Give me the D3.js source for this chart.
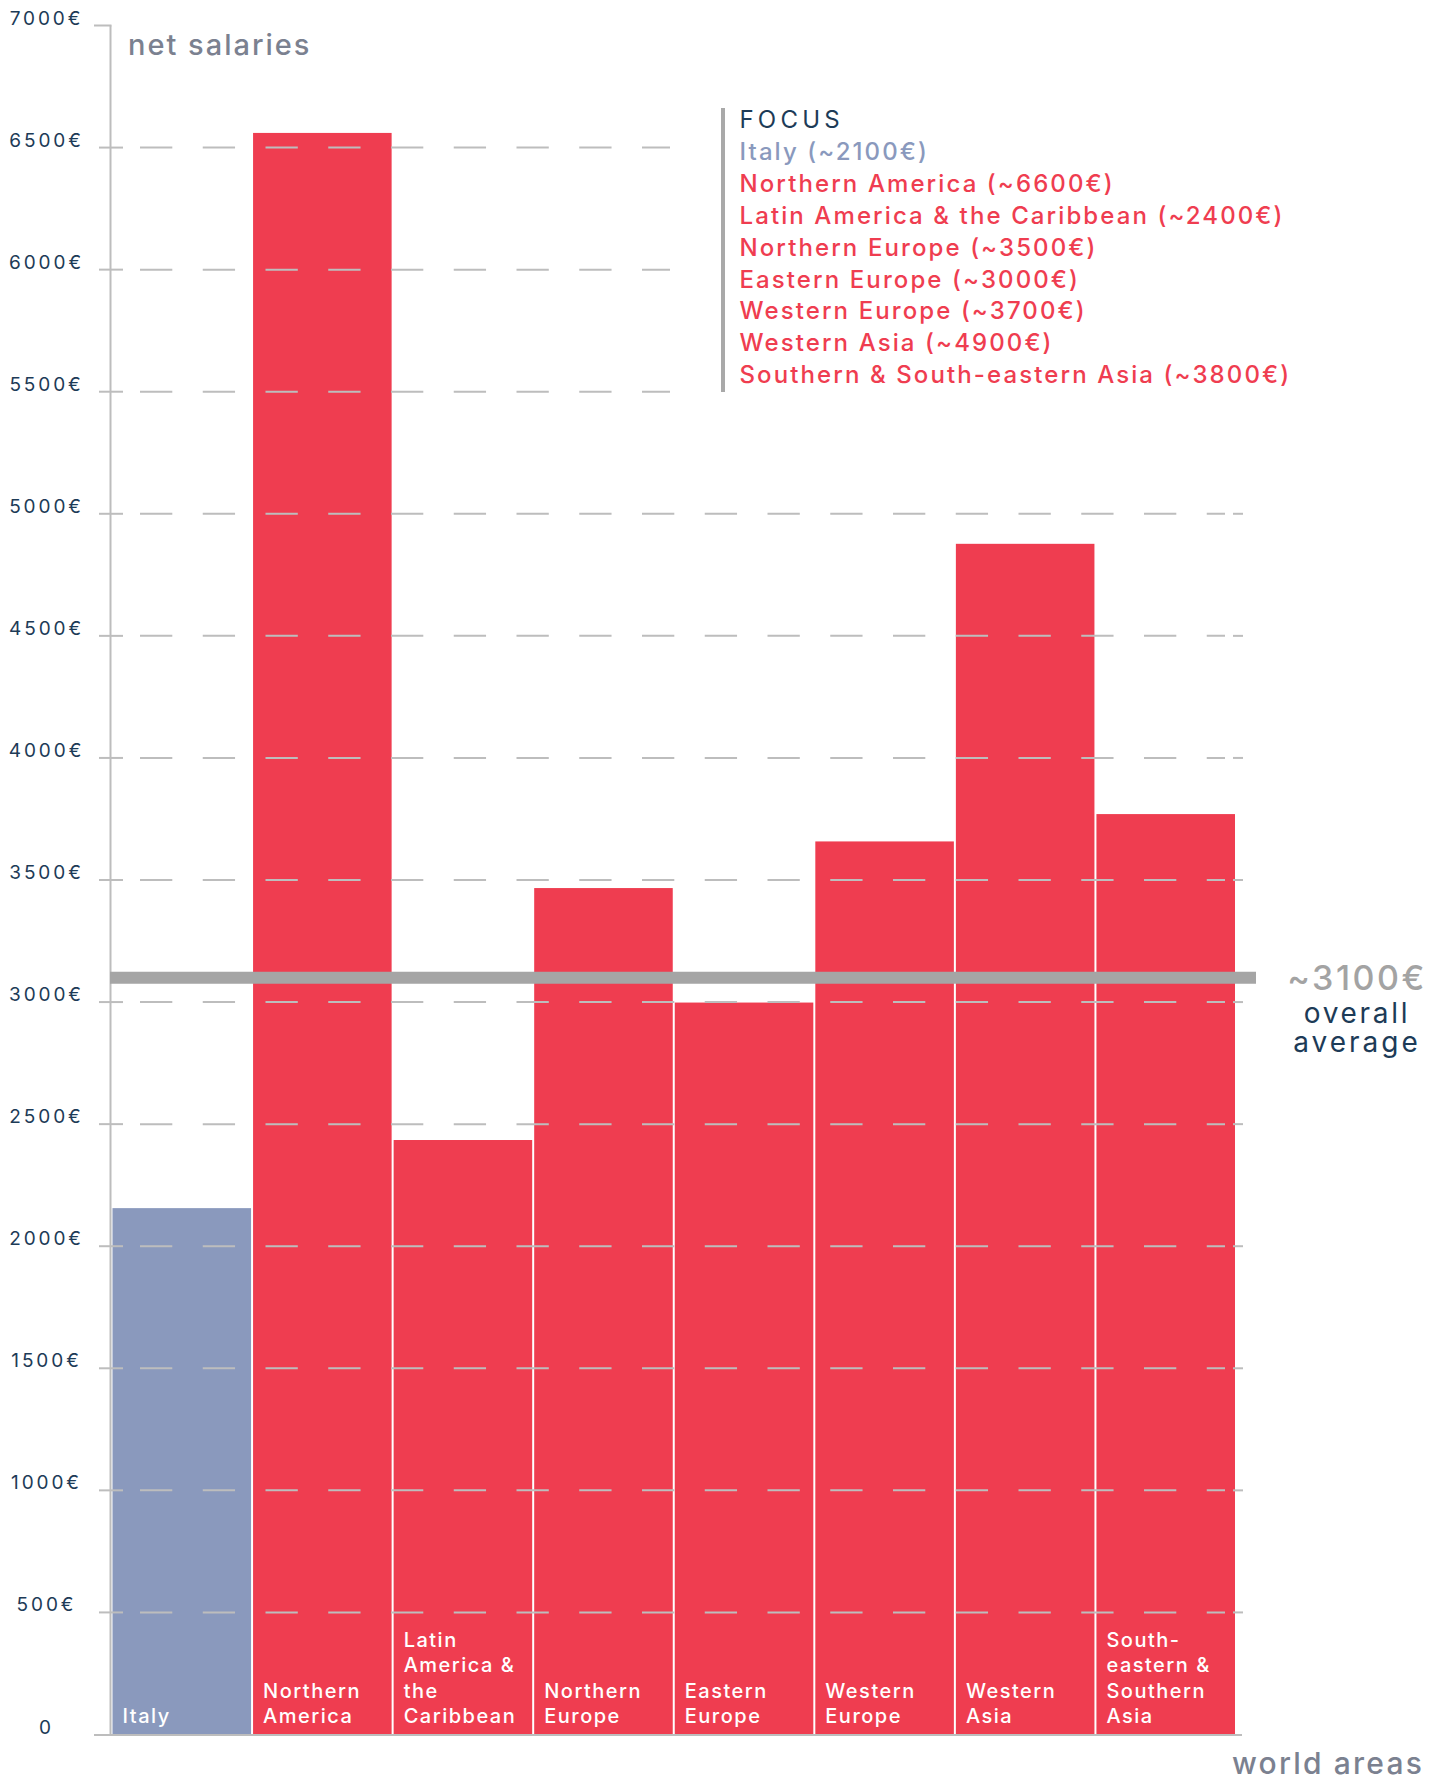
<!DOCTYPE html>
<html>
<head>
<meta charset="utf-8">
<script src="https://cdn.jsdelivr.net/npm/d3@7"></script>
<style>
  body { margin: 0; background: #fff; }
  svg { display: block; font-family: Inter, "Noto Sans", sans-serif; }
</style>
</head>
<body>
<svg id="chart" width="1446" height="1781"></svg>
<script>
// chart data
var areas = ["Italy", "Northern America", "Latin America & the Caribbean", "Northern Europe",
             "Eastern Europe", "Western Europe", "Western Asia", "Southern & South-eastern Asia"];
var salaries = [2156, 6560, 2435, 3467, 2998, 3658, 4877, 3770];
var barLabels = [["Italy"], ["Northern", "America"], ["Latin", "America &", "the", "Caribbean"],
                 ["Northern", "Europe"], ["Eastern", "Europe"], ["Western", "Europe"],
                 ["Western", "Asia"], ["South-", "eastern &", "Southern", "Asia"]];
var focusValues = [2100, 6600, 2400, 3500, 3000, 3700, 4900, 3800];
var yTicks = [0, 500, 1000, 1500, 2000, 2500, 3000, 3500, 4000, 4500, 5000, 5500, 6000, 6500, 7000];
var overallAverage = 3100;

var red = "#ef3d50", blue = "#8a99bd", grid = "#bdbdbd", navy = "#1d3b57";

var svg = d3.select("#chart");

var x = d3.scaleBand()
    .domain(areas)
    .range([112.5, 1237]);

var y = d3.scaleLinear()
    .domain([0, 7000])
    .range([1734.5, 25.5]);

// bars
svg.append("g").selectAll("rect")
    .data(areas)
    .enter().append("rect")
    .attr("x", function (d) { return x(d); })
    .attr("y", function (d, i) { return y(salaries[i]); })
    .attr("width", x.bandwidth() - 2)
    .attr("height", function (d, i) { return y(0) - y(salaries[i]); })
    .attr("fill", function (d, i) { return i == 0 ? blue : red; });

// bar labels, bottom aligned
svg.append("g").selectAll("text")
    .data(areas)
    .enter().append("text")
    .attr("fill", "#fff")
    .style("font-size", "20px")
    .style("font-weight", 500)
    .style("letter-spacing", "1.5px")
    .each(function (d, i) {
        var lines = barLabels[i];
        var t = d3.select(this);
        lines.forEach(function (l, k) {
            t.append("tspan")
                .attr("x", x(d) + 10)
                .attr("y", 1723 - (lines.length - 1 - k) * 25.3)
                .text(l);
        });
    });

// gridlines (dashed, drawn on top of bars)
var gridG = svg.append("g");
yTicks.filter(function (v) { return v > 0 && v < 7000; }).forEach(function (v) {
    var end = v >= 5500 ? 670 : 1225;
    gridG.append("line")
        .attr("x1", 140).attr("x2", end)
        .attr("y1", y(v)).attr("y2", y(v))
        .attr("stroke", grid).attr("stroke-width", 2)
        .attr("stroke-dasharray", "32.3 30.45");
    // cross tick on the axis
    gridG.append("line")
        .attr("x1", 99).attr("x2", 123)
        .attr("y1", y(v)).attr("y2", y(v))
        .attr("stroke", grid).attr("stroke-width", 2);
    if (v < 5500) {
        gridG.append("line")
            .attr("x1", 1233).attr("x2", 1243)
            .attr("y1", y(v)).attr("y2", y(v))
            .attr("stroke", grid).attr("stroke-width", 2);
    }
});

// axes
svg.append("line")
    .attr("x1", 110.5).attr("x2", 110.5)
    .attr("y1", y(7000)).attr("y2", y(0))
    .attr("stroke", grid).attr("stroke-width", 2);
svg.append("line")
    .attr("x1", 94).attr("x2", 111.5)
    .attr("y1", y(7000)).attr("y2", y(7000))
    .attr("stroke", grid).attr("stroke-width", 2);
svg.append("line")
    .attr("x1", 94).attr("x2", 1242)
    .attr("y1", y(0) + 0.5).attr("y2", y(0) + 0.5)
    .attr("stroke", grid).attr("stroke-width", 2);

// y tick labels
svg.append("g").selectAll("text")
    .data(yTicks)
    .enter().append("text")
    .attr("x", 46.5)
    .attr("y", function (d) { return y(d) - 1; })
    .attr("text-anchor", "middle")
    .attr("fill", navy)
    .style("font-size", "19px")
    .style("letter-spacing", "2.9px")
    .text(function (d) { return d == 0 ? "0" : d + "€"; });

// overall average line
svg.append("line")
    .attr("x1", 110).attr("x2", 1256)
    .attr("y1", y(overallAverage)).attr("y2", y(overallAverage))
    .attr("stroke", "#a5a5a5").attr("stroke-width", 12);

svg.append("text")
    .attr("x", 1357).attr("y", 990)
    .attr("text-anchor", "middle")
    .attr("fill", "#a3a3a3")
    .style("font-size", "34px")
    .style("font-weight", 500)
    .style("letter-spacing", "2.5px")
    .text("~" + overallAverage + "€");
svg.append("text")
    .attr("x", 1357).attr("y", 1023)
    .attr("text-anchor", "middle")
    .attr("fill", navy)
    .style("font-size", "28px")
    .style("letter-spacing", "2.7px")
    .text("overall");
svg.append("text")
    .attr("x", 1357).attr("y", 1051.5)
    .attr("text-anchor", "middle")
    .attr("fill", navy)
    .style("font-size", "28px")
    .style("letter-spacing", "3px")
    .text("average");

// axis titles
svg.append("text")
    .attr("x", 128).attr("y", 55)
    .attr("fill", "#7b8190")
    .style("font-size", "29px")
    .style("font-weight", 500)
    .style("letter-spacing", "2px")
    .text("net salaries");
svg.append("text")
    .attr("x", 1232).attr("y", 1774)
    .attr("fill", "#7b8190")
    .style("font-size", "30px")
    .style("font-weight", 500)
    .style("letter-spacing", "2.2px")
    .text("world areas");

// focus box
svg.append("line")
    .attr("x1", 723).attr("x2", 723)
    .attr("y1", 108).attr("y2", 392)
    .attr("stroke", "#a9a9a9").attr("stroke-width", 4);

var focus = svg.append("g")
    .style("font-size", "24px");
focus.append("text")
    .attr("x", 739.5).attr("y", 128)
    .attr("fill", navy)
    .style("letter-spacing", "4.2px")
    .text("FOCUS");
focus.selectAll("text.item")
    .data(areas)
    .enter().append("text")
    .attr("class", "item")
    .attr("x", 739.5)
    .attr("y", function (d, i) { return 128 + (i + 1) * 31.9; })
    .attr("fill", function (d, i) { return i == 0 ? blue : red; })
    .style("font-weight", 500)
    .style("letter-spacing", "2.1px")
    .text(function (d, i) { return d + " (~" + focusValues[i] + "€)"; });
</script>
</body>
</html>
